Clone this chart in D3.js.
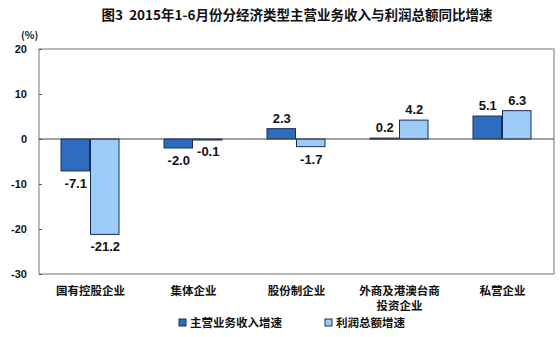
<!DOCTYPE html>
<html lang="zh">
<head>
<meta charset="UTF-8">
<title>图3</title>
<style>
  body { margin: 0; background: #fff; }
  text { font-family: "Noto Sans CJK SC", "DejaVu Sans", sans-serif; font-weight: bold; fill: #111; }
</style>
</head>
<body>
<script src="https://d3js.org/d3.v7.min.js"></script>
<script>
  const categories = ['国有控股企业', '集体企业', '股份制企业', '外商及港澳台商|投资企业', '私营企业'];
  const seriesNames = ['主营业务收入增速', '利润总额增速'];
  const revenue = [-7.1, -2.0, 2.3, 0.2, 5.1];
  const profit = [-21.2, -0.1, -1.7, 4.2, 6.3];
  const yTicks = [20, 10, 0, -10, -20, -30];
  const colors = ['#2e6cc0', '#9dcbf7'];

  const width = 560, height = 337;
  const plotL = 39, plotR = 554, plotT = 49, plotB = 274;

  const svg = d3.select('body').append('svg')
      .attr('width', width).attr('height', height);

  const y = d3.scaleLinear().domain([-30, 20]).range([plotB, plotT]);
  const x0 = d3.scaleBand().domain(categories).range([plotL, plotR]);
  const x1 = d3.scaleBand().domain([0, 1]).range([-29.5, 29.5]);

  // title
  svg.append('text')
      .attr('x', 297).attr('y', 20)
      .attr('text-anchor', 'middle')
      .style('font-size', '13.5px')
      .style('white-space', 'pre')
      .text('图3  2015年1-6月份分经济类型主营业务收入与利润总额同比增速');

  svg.append('text')
      .attr('x', 21).attr('y', 39)
      .style('font-size', '10px')
      .text('(%)');

  // frame
  svg.append('rect')
      .attr('x', plotL).attr('y', plotT)
      .attr('width', plotR - plotL).attr('height', plotB - plotT)
      .attr('fill', 'none').attr('stroke', '#777').attr('stroke-width', 1);

  // y axis
  const yAxis = svg.append('g')
      .attr('transform', `translate(${plotL},0)`)
      .call(d3.axisLeft(y).tickValues(yTicks).tickFormat(d => String(d)).tickSize(-3).tickPadding(12));
  yAxis.select('.domain').remove();
  yAxis.selectAll('line').attr('stroke', '#555');
  yAxis.selectAll('text')
      .style('font-size', '11px')
      .style('font-family', '"Liberation Sans", Arial, sans-serif')
      .attr('fill', '#111');

  const series = [revenue, profit];
  const groups = svg.append('g').selectAll('g')
      .data(categories).enter().append('g')
      .attr('transform', d => `translate(${x0(d) + x0.bandwidth() / 2},0)`);

  groups.selectAll('rect')
      .data((d, i) => series.map((s, k) => ({k, v: s[i]})))
      .enter().append('rect')
      .attr('x', d => x1(d.k))
      .attr('width', x1.bandwidth() - 1)
      .attr('y', d => y(Math.max(0, d.v)))
      .attr('height', d => Math.max(1, Math.abs(y(d.v) - y(0))))
      .attr('fill', d => colors[d.k])
      .attr('stroke', '#1c2e55').attr('stroke-width', 1);

  groups.selectAll('text.val')
      .data((d, i) => series.map((s, k) => ({k, v: s[i]})))
      .enter().append('text')
      .attr('class', 'val')
      .attr('x', d => x1(d.k) + x1.bandwidth() / 2)
      .attr('y', d => d.v >= 0 ? y(d.v) - 6 : y(d.v) + 17)
      .attr('text-anchor', 'middle')
      .style('font-size', '13px')
      .style('font-family', '"Liberation Sans", Arial, sans-serif')
      .text(d => d.v.toFixed(1));

  // zero line
  svg.append('line')
      .attr('x1', plotL).attr('x2', plotR)
      .attr('y1', y(0)).attr('y2', y(0))
      .attr('stroke', '#444').attr('stroke-width', 1);

  // category labels
  groups.append('text')
      .attr('y', 295)
      .attr('text-anchor', 'middle')
      .style('font-size', '11.5px')
      .selectAll('tspan')
      .data(d => d.split('|'))
      .enter().append('tspan')
      .attr('x', 0)
      .attr('dy', (d, i) => i ? 15 : 0)
      .text(d => d);

  // legend
  const legendX = [179, 325];
  const legend = svg.append('g').selectAll('g')
      .data(seriesNames).enter().append('g')
      .attr('transform', (d, i) => `translate(${legendX[i]},319)`);
  legend.append('rect')
      .attr('width', 7).attr('height', 7)
      .attr('fill', (d, i) => colors[i])
      .attr('stroke', '#1c2e55');
  legend.append('text')
      .attr('x', 11).attr('y', 8)
      .style('font-size', '11.5px')
      .text(d => d);
</script>
</body>
</html>
